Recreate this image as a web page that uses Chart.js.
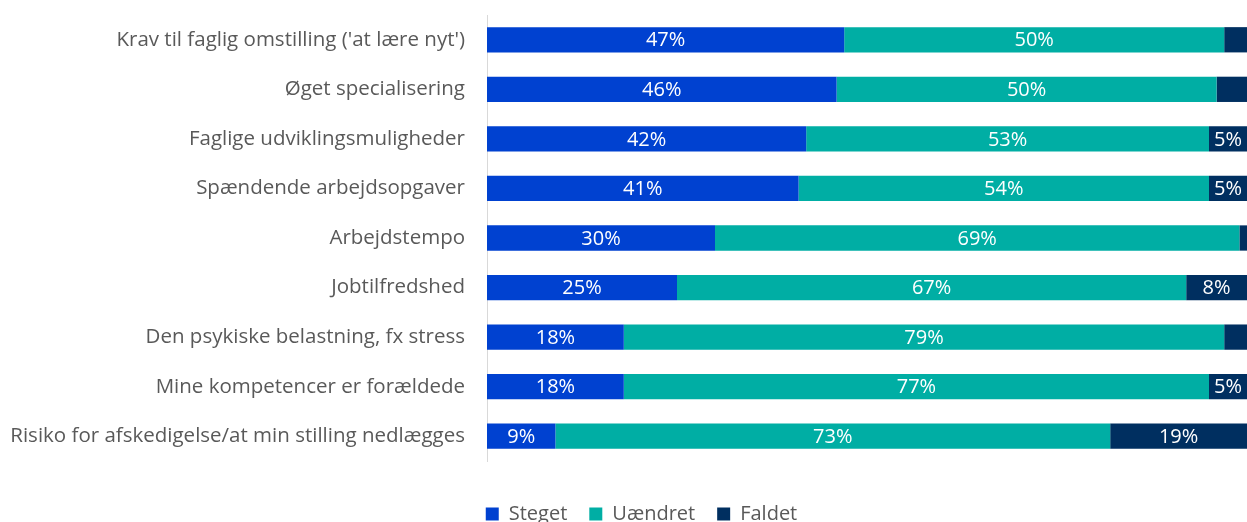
<!DOCTYPE html>
<html lang="da">
<head>
<meta charset="UTF-8" />
<title>Udvikling i arbejdet</title>
<script src="https://cdn.jsdelivr.net/npm/chart.js@4/dist/chart.umd.min.js"></script>
<style>
    html, body { margin: 0; padding: 0; background: #fff; }
    #wrap { width: 1247px; height: 522px; position: relative; }
</style>
</head>
<body>
<div id="wrap"><canvas id="chart"></canvas></div>
<script>
    const categories = [
        "Krav til faglig omstilling ('at lære nyt')",
        'Øget specialisering',
        'Faglige udviklingsmuligheder',
        'Spændende arbejdsopgaver',
        'Arbejdstempo',
        'Jobtilfredshed',
        'Den psykiske belastning, fx stress',
        'Mine kompetencer er forældede',
        'Risiko for afskedigelse/at min stilling nedlægges'
    ];
    const steget   = [47, 46, 42, 41, 30, 25, 18, 18, 9];
    const uaendret = [50, 50, 53, 54, 69, 67, 79, 77, 73];
    const faldet   = [3, 4, 5, 5, 1, 8, 3, 5, 19];

    const fontFamily = "'Open Sans', 'Noto Sans', sans-serif";

    // draw the percentage inside each segment (small ones are left out)
    const barLabels = {
        id: 'barLabels',
        afterLayout(chart) {
            // legend sits a bit right of the page centre in the original
            if (chart.legend) chart.legend.left += 36;
        },
        afterDatasetsDraw(chart) {
            const ctx = chart.ctx;
            ctx.save();
            ctx.font = '20px ' + fontFamily;
            ctx.fillStyle = '#ffffff';
            ctx.textAlign = 'center';
            ctx.textBaseline = 'middle';
            chart.data.datasets.forEach((ds, i) => {
                const meta = chart.getDatasetMeta(i);
                meta.data.forEach((bar, j) => {
                    const v = ds.data[j];
                    if (v < 5) return;
                    const right = Math.min(bar.x, chart.chartArea.right);
                    const cx = (bar.base + right) / 2;
                    ctx.fillText(v + '%', cx, bar.y + 1);
                });
            });
            ctx.restore();
        }
    };

    new Chart(document.getElementById('chart'), {
        type: 'bar',
        data: {
            labels: categories,
            datasets: [
                { label: 'Steget', data: steget, backgroundColor: '#0041d0' },
                { label: 'Uændret', data: uaendret, backgroundColor: '#00aea4' },
                { label: 'Faldet', data: faldet, backgroundColor: '#002f60' }
            ]
        },
        options: {
            indexAxis: 'y',
            responsive: true,
            maintainAspectRatio: false,
            animation: false,
            layout: { padding: { top: 15, right: 0, left: 0, bottom: -12 } },
            datasets: {
                bar: { barPercentage: 0.51, categoryPercentage: 1, borderWidth: 0 }
            },
            scales: {
                x: {
                    stacked: true,
                    min: 0,
                    max: 100,
                    display: false
                },
                y: {
                    stacked: true,
                    afterFit(scale) {
                        scale.width = 487;
                        scale.paddingTop = 0;
                        scale.paddingBottom = 0;
                    },
                    grid: { display: false, drawTicks: false },
                    border: { display: true, color: '#d9d9d9', width: 1 },
                    ticks: {
                        color: '#595959',
                        padding: 22,
                        font: { family: fontFamily, size: 20.5 }
                    }
                }
            },
            plugins: {
                legend: {
                    position: 'bottom',
                    title: { display: true, text: ' ', padding: { top: 9, bottom: 0 }, font: { size: 10 } },
                    labels: {
                        color: '#595959',
                        boxWidth: 13,
                        boxHeight: 13,
                        padding: 22,
                        font: { family: fontFamily, size: 20 }
                    }
                },
                tooltip: { enabled: false }
            }
        },
        plugins: [barLabels]
    });
</script>
</body>
</html>
